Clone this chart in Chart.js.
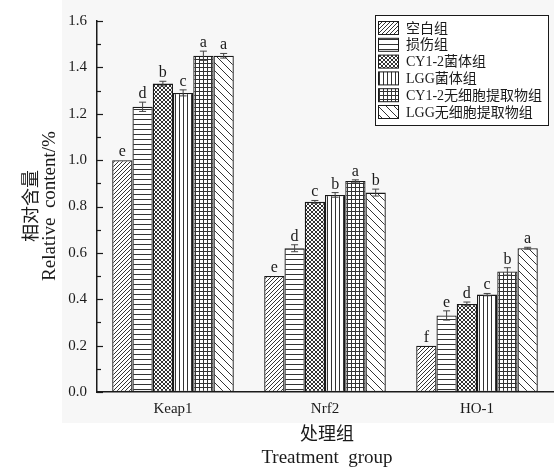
<!DOCTYPE html>
<html>
<head>
<meta charset="utf-8">
<script src="https://cdn.jsdelivr.net/npm/chart.js@4/dist/chart.umd.min.js"></script>
<style>
  html, body { margin: 0; padding: 0; background: #fff; }
  #wrap { width: 554px; height: 469px; position: relative; }
</style>
</head>
<body>
<div id="wrap"><canvas id="c" width="554" height="469"></canvas></div>
<script>
// Genes measured
const genes = ['Keap1', 'Nrf2', 'HO-1'];

// Treatment groups
const groupNames = ['空白组', '损伤组', 'CY1-2菌体组', 'LGG菌体组', 'CY1-2无细胞提取物组', 'LGG无细胞提取物组'];

// Relative content per group (Keap1, Nrf2, HO-1)
const blankVals   = [1.00, 0.50, 0.20];
const injuryVals  = [1.23, 0.62, 0.33];
const cyCellVals  = [1.33, 0.82, 0.38];
const lggCellVals = [1.29, 0.85, 0.42];
const cyCfeVals   = [1.45, 0.91, 0.52];
const lggCfeVals  = [1.45, 0.86, 0.62];

// Standard errors
const blankErr   = [0.000, 0.000, 0.000];
const injuryErr  = [0.020, 0.015, 0.020];
const cyCellErr  = [0.010, 0.006, 0.008];
const lggCellErr = [0.013, 0.010, 0.005];
const cyCfeErr   = [0.020, 0.005, 0.016];
const lggCfeErr  = [0.010, 0.015, 0.004];

// Significance letters
const blankSig   = ['e', 'e', 'f'];
const injurySig  = ['d', 'd', 'e'];
const cyCellSig  = ['b', 'c', 'd'];
const lggCellSig = ['c', 'b', 'c'];
const cyCfeSig   = ['a', 'a', 'b'];
const lggCfeSig  = ['a', 'b', 'a'];

// Y axis tick values
const yTicks = [0.0, 0.2, 0.4, 0.6, 0.8, 1.0, 1.2, 1.4, 1.6];

const serif = '"Liberation Serif", "Noto Sans CJK SC", serif';
const ink = '#1a1a1a';

// Hatch fills for each group
function makePattern(kind) {
  const sizes = { diag: 4, horiz: 5, cross: 4, vert: 4, grid: 4, back: 8 };
  const s = sizes[kind];
  const cv = document.createElement('canvas');
  cv.width = s; cv.height = s;
  const g = cv.getContext('2d');
  g.fillStyle = '#fff';
  g.fillRect(0, 0, s, s);
  g.strokeStyle = '#333';
  g.fillStyle = '#333';
  g.lineWidth = 1;
  const slash = () => {
    g.beginPath();
    g.moveTo(-1, s + 1); g.lineTo(s + 1, -1);
    g.moveTo(-1, 1); g.lineTo(1, -1);
    g.moveTo(s - 1, s + 1); g.lineTo(s + 1, s - 1);
    g.stroke();
  };
  const backslash = () => {
    g.beginPath();
    g.moveTo(-1, -1); g.lineTo(s + 1, s + 1);
    g.moveTo(-1, s - 1); g.lineTo(1, s + 1);
    g.moveTo(s - 1, -1); g.lineTo(s + 1, 1);
    g.stroke();
  };
  if (kind === 'diag') slash();
  if (kind === 'back') backslash();
  if (kind === 'cross') { slash(); backslash(); }
  if (kind === 'horiz') g.fillRect(0, s - 1, s, 1);
  if (kind === 'vert') g.fillRect(s - 1, 0, 1, s);
  if (kind === 'grid') { g.fillRect(0, s - 1, s, 1); g.fillRect(s - 1, 0, 1, s); }
  return g.createPattern(cv, 'repeat');
}

const seriesVals = [blankVals, injuryVals, cyCellVals, lggCellVals, cyCfeVals, lggCfeVals];
const seriesErr  = [blankErr, injuryErr, cyCellErr, lggCellErr, cyCfeErr, lggCfeErr];
const seriesSig  = [blankSig, injurySig, cyCellSig, lggCellSig, cyCfeSig, lggCfeSig];
const patternKinds = ['diag', 'horiz', 'cross', 'vert', 'grid', 'back'];

const datasets = groupNames.map((name, i) => ({
  label: name,
  data: seriesVals[i],
  err: seriesErr[i],
  sig: seriesSig[i],
  backgroundColor: makePattern(patternKinds[i]),
  borderColor: ink,
  borderWidth: 1.3,
  borderSkipped: false,
  categoryPercentage: 0.8,
  barPercentage: 1.0
}));

// Faint backdrop behind the plot region
const backdrop = {
  id: 'backdrop',
  beforeDraw(chart) {
    const ctx = chart.ctx;
    ctx.save();
    ctx.fillStyle = '#fff';
    ctx.fillRect(0, 0, chart.width, chart.height);
    ctx.fillStyle = '#f7f7f7';
    ctx.fillRect(62, 0, chart.width - 62, 423);
    ctx.restore();
  }
};

// Inward ticks on the value axis
const inwardTicks = {
  id: 'inwardTicks',
  afterDraw(chart) {
    const y = chart.scales.y, ctx = chart.ctx;
    const x0 = chart.chartArea.left;
    ctx.save();
    ctx.strokeStyle = ink;
    ctx.lineWidth = 1.2;
    for (let k = 0; k <= 16; k++) {
      const v = k * 0.1;
      const py = Math.round(y.getPixelForValue(v)) + 0.5;
      const len = k % 2 === 0 ? 6 : 4;
      ctx.beginPath();
      ctx.moveTo(x0, py);
      ctx.lineTo(x0 + len, py);
      ctx.stroke();
    }
    ctx.restore();
  }
};

// Error bars and significance letters
const errorLetters = {
  id: 'errorLetters',
  afterDatasetsDraw(chart) {
    const y = chart.scales.y, ctx = chart.ctx;
    ctx.save();
    chart.data.datasets.forEach((ds, i) => {
      const meta = chart.getDatasetMeta(i);
      meta.data.forEach((bar, j) => {
        const v = ds.data[j], e = ds.err[j];
        const x = bar.x;
        const top = y.getPixelForValue(v + e);
        const bot = y.getPixelForValue(v - e);
        if (e > 0) {
          ctx.strokeStyle = '#444';
          ctx.lineWidth = 1;
          ctx.beginPath();
          ctx.moveTo(x, top); ctx.lineTo(x, bot);
          ctx.moveTo(x - 3.5, top); ctx.lineTo(x + 3.5, top);
          ctx.moveTo(x - 3.5, bot); ctx.lineTo(x + 3.5, bot);
          ctx.stroke();
        }
        ctx.fillStyle = ink;
        ctx.font = '16px ' + serif;
        ctx.textAlign = 'center';
        ctx.textBaseline = 'alphabetic';
        ctx.fillText(ds.sig[j], x, top - 4);
      });
    });
    ctx.restore();
  }
};

// Axis titles and legend box
const decorations = {
  id: 'decorations',
  afterDraw(chart) {
    const ctx = chart.ctx;
    const area = chart.chartArea;
    ctx.save();
    ctx.fillStyle = ink;

    // y title (two lines, rotated)
    ctx.save();
    ctx.translate(30, 206);
    ctx.rotate(-Math.PI / 2);
    ctx.textAlign = 'center';
    ctx.textBaseline = 'middle';
    ctx.font = '18px "Noto Sans CJK SC", serif';
    ctx.fillText('相对含量', 0, 0);
    ctx.font = '19px ' + serif;
    ctx.fillText('Relative  content/%', 0, 20);
    ctx.restore();

    // x title (two lines)
    ctx.textAlign = 'center';
    ctx.textBaseline = 'middle';
    const cx = (area.left + area.right) / 2;
    ctx.font = '18px "Noto Sans CJK SC", serif';
    ctx.fillText('处理组', 327, 433);
    ctx.font = '19px ' + serif;
    ctx.fillText('Treatment  group', 327, 458);

    // legend
    const lx = 375, ly = 15, lw = 173, lh = 110;
    ctx.fillStyle = '#fff';
    ctx.fillRect(lx, ly, lw, lh);
    ctx.strokeStyle = ink;
    ctx.lineWidth = 1;
    ctx.strokeRect(lx + 0.5, ly + 0.5, lw, lh);
    chart.data.datasets.forEach((ds, i) => {
      const cy = 28 + i * 16.8;
      ctx.fillStyle = ds.backgroundColor;
      ctx.fillRect(378, cy - 6.5, 20, 13);
      ctx.strokeStyle = ink;
      ctx.strokeRect(378.5, cy - 6.5, 20, 13);
      ctx.fillStyle = ink;
      ctx.textAlign = 'left';
      ctx.textBaseline = 'middle';
      ctx.font = '14px ' + serif;
      ctx.fillText(ds.label, 406, cy + 1);
    });
    ctx.restore();
  }
};

new Chart(document.getElementById('c'), {
  type: 'bar',
  data: { labels: genes, datasets: datasets },
  options: {
    responsive: false,
    devicePixelRatio: 1,
    animation: false,
    layout: { padding: { left: 0, right: 1, top: 21, bottom: 0 } },
    plugins: { legend: { display: false }, tooltip: { enabled: false } },
    scales: {
      x: {
        grid: { display: false, drawTicks: false },
        border: { display: true, color: ink, width: 1.5 },
        ticks: { color: ink, padding: 8, font: { family: serif, size: 15 } },
        afterFit(s) { s.height = 77; }
      },
      y: {
        min: 0, max: 1.6,
        afterBuildTicks(s) { s.ticks = yTicks.map(v => ({ value: v })); },
        grid: { display: false, drawTicks: false },
        border: { display: true, color: ink, width: 1.5 },
        ticks: {
          color: ink, padding: 10,
          font: { family: serif, size: 15 },
          callback: v => Number(v).toFixed(1)
        },
        afterFit(s) { s.width = 97; }
      }
    }
  },
  plugins: [backdrop, inwardTicks, errorLetters, decorations]
});
</script>
</body>
</html>
